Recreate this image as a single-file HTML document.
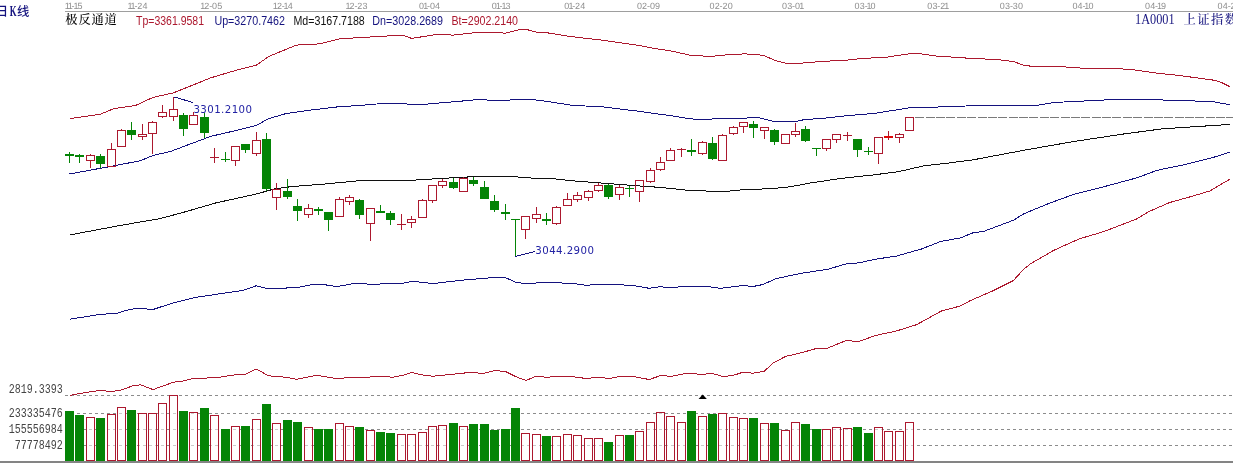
<!DOCTYPE html>
<html lang="zh"><head><meta charset="utf-8"><title>日K线 极反通道 1A0001 上证指数</title>
<style>html,body{margin:0;padding:0;background:#fff;overflow:hidden}svg{display:block}.cj{font-family:"Liberation Serif","Noto Serif CJK SC","Noto Sans CJK SC",serif}.cs{font-family:"Liberation Sans","Noto Sans CJK SC",sans-serif}.sa{font-family:"Liberation Sans",sans-serif}.mo{font-family:"Liberation Mono",monospace}.dv{font-family:"DejaVu Sans","Liberation Sans",sans-serif}</style></head><body>
<svg width="1233" height="464" viewBox="0 0 1233 464">
<rect x="0" y="0" width="1233" height="464" fill="#ffffff"/>
<g shape-rendering="crispEdges">
<rect x="65" y="11" width="1168" height="1" fill="#9e9e9e"/>
<rect x="0" y="461" width="1233" height="2" fill="#848484"/>
<line x1="65" y1="395.5" x2="1233" y2="395.5" stroke="#8c8c8c" stroke-width="1" stroke-dasharray="3 3"/>
<line x1="65" y1="413.5" x2="1233" y2="413.5" stroke="#8c8c8c" stroke-width="1" stroke-dasharray="3 3"/>
<line x1="65" y1="429.5" x2="1233" y2="429.5" stroke="#8c8c8c" stroke-width="1" stroke-dasharray="3 3"/>
<line x1="65" y1="445.5" x2="1233" y2="445.5" stroke="#8c8c8c" stroke-width="1" stroke-dasharray="3 3"/>
</g>
<g class="sa" font-size="9px" fill="#8e8e8e" text-rendering="geometricPrecision">
<text x="64.8 67.8 71.6 73.4 77.5" y="8.8">11-15</text>
<text x="127.6 130.6 134.4 137.3 142.5" y="8.8">11-24</text>
<text x="200.2 204.3 209.2 212.1 217.3" y="8.8">12-05</text>
<text x="272.8 276.9 281.8 283.6 287.7" y="8.8">12-14</text>
<text x="345.4 349.5 354.4 357.3 362.5" y="8.8">12-23</text>
<text x="419.1 423.2 427.0 429.9 435.1" y="8.8">01-04</text>
<text x="491.7 495.8 499.6 501.4 505.5" y="8.8">01-13</text>
<text x="564.3 568.4 572.2 575.1 580.3" y="8.8">01-24</text>
<text x="636.9 642.1 647.0 649.9 655.1" y="8.8">02-09</text>
<text x="709.5 714.7 719.6 722.5 727.7" y="8.8">02-20</text>
<text x="782.0 787.2 792.1 795.1 799.2" y="8.8">03-01</text>
<text x="854.6 859.8 864.7 866.5 870.6" y="8.8">03-10</text>
<text x="927.2 932.4 937.3 940.2 944.3" y="8.8">03-21</text>
<text x="999.8 1005.0 1009.9 1012.8 1018.0" y="8.8">03-30</text>
<text x="1072.4 1077.6 1082.5 1084.3 1088.4" y="8.8">04-10</text>
<text x="1145.0 1150.2 1155.1 1156.9 1161.0" y="8.8">04-19</text>
<text x="1217.6 1222.8 1227.7 1230.6 1235.8" y="8.8">04-28</text>
</g>
<text class="cs" x="-4.2" y="16" font-size="12.3px" font-weight="500" fill="#14127e">日</text>
<text class="cj" x="9.8" y="16.2" font-size="14.5px" font-weight="600" fill="#14127e" textLength="6.8" lengthAdjust="spacingAndGlyphs">K</text>
<text class="cs" x="17" y="16" font-size="12.3px" font-weight="500" fill="#14127e">线</text>
<text class="cj" x="65.3" y="23.6" font-size="12.3px" font-weight="500" fill="#000" textLength="51.6" lengthAdjust="spacing">极反通道</text>
<text class="sa" x="136.0" y="24.9" font-size="12.3px" fill="#ac182e" textLength="68.0" lengthAdjust="spacingAndGlyphs">Tp=3361.9581</text>
<text class="sa" x="214.4" y="24.9" font-size="12.3px" fill="#14127e" textLength="70.6" lengthAdjust="spacingAndGlyphs">Up=3270.7462</text>
<text class="sa" x="293.5" y="24.9" font-size="12.3px" fill="#101010" textLength="71.3" lengthAdjust="spacingAndGlyphs">Md=3167.7188</text>
<text class="sa" x="372.3" y="24.9" font-size="12.3px" fill="#14127e" textLength="70.7" lengthAdjust="spacingAndGlyphs">Dn=3028.2689</text>
<text class="sa" x="451.5" y="24.9" font-size="12.3px" fill="#ac182e" textLength="66.5" lengthAdjust="spacingAndGlyphs">Bt=2902.2140</text>
<text class="cj" x="1135" y="24" font-size="14.6px" fill="#14127e" textLength="39.6" lengthAdjust="spacingAndGlyphs">1A0001</text>
<text class="cj" x="1183.6" y="23.6" font-size="12.3px" font-weight="500" fill="#14127e" textLength="53.5" lengthAdjust="spacing">上证指数</text>
<text class="mo" x="62.7" y="392.7" font-size="12px" fill="#444" text-anchor="end" textLength="54" lengthAdjust="spacingAndGlyphs">2819.3393</text>
<text class="mo" x="62.7" y="416.7" font-size="12px" fill="#444" text-anchor="end" textLength="54" lengthAdjust="spacingAndGlyphs">233335476</text>
<text class="mo" x="62.7" y="433" font-size="12px" fill="#444" text-anchor="end" textLength="54" lengthAdjust="spacingAndGlyphs">155556984</text>
<text class="mo" x="62.7" y="449" font-size="12px" fill="#444" text-anchor="end" textLength="48" lengthAdjust="spacingAndGlyphs">77778492</text>
<g shape-rendering="crispEdges">
<rect x="65" y="411" width="9" height="50" fill="#048406"/>
<rect x="75" y="415" width="9" height="46" fill="#048406"/>
<rect x="86.5" y="417.5" width="8" height="43" fill="#fff" fill-opacity="0.55" stroke="#ac182e" stroke-width="1"/>
<rect x="96" y="418" width="9" height="43" fill="#048406"/>
<rect x="107.5" y="414.5" width="8" height="46" fill="#fff" fill-opacity="0.55" stroke="#ac182e" stroke-width="1"/>
<rect x="117.5" y="407.5" width="8" height="53" fill="#fff" fill-opacity="0.55" stroke="#ac182e" stroke-width="1"/>
<rect x="127" y="410" width="9" height="51" fill="#048406"/>
<rect x="138.5" y="413.5" width="8" height="47" fill="#fff" fill-opacity="0.55" stroke="#ac182e" stroke-width="1"/>
<rect x="148.5" y="413.5" width="8" height="47" fill="#fff" fill-opacity="0.55" stroke="#ac182e" stroke-width="1"/>
<rect x="158.5" y="403.5" width="8" height="57" fill="#fff" fill-opacity="0.55" stroke="#ac182e" stroke-width="1"/>
<rect x="169.5" y="395.5" width="8" height="65" fill="#fff" fill-opacity="0.55" stroke="#ac182e" stroke-width="1"/>
<rect x="179" y="411" width="9" height="50" fill="#048406"/>
<rect x="189.5" y="412.5" width="8" height="48" fill="#fff" fill-opacity="0.55" stroke="#ac182e" stroke-width="1"/>
<rect x="200" y="408" width="9" height="53" fill="#048406"/>
<rect x="210.5" y="415.5" width="8" height="45" fill="#fff" fill-opacity="0.55" stroke="#ac182e" stroke-width="1"/>
<rect x="221" y="429" width="9" height="32" fill="#048406"/>
<rect x="231.5" y="426.5" width="8" height="34" fill="#fff" fill-opacity="0.55" stroke="#ac182e" stroke-width="1"/>
<rect x="241" y="426" width="9" height="35" fill="#048406"/>
<rect x="252.5" y="419.5" width="8" height="41" fill="#fff" fill-opacity="0.55" stroke="#ac182e" stroke-width="1"/>
<rect x="262" y="404" width="9" height="57" fill="#048406"/>
<rect x="272.5" y="423.5" width="8" height="37" fill="#fff" fill-opacity="0.55" stroke="#ac182e" stroke-width="1"/>
<rect x="283" y="420" width="9" height="41" fill="#048406"/>
<rect x="293" y="422" width="9" height="39" fill="#048406"/>
<rect x="304.5" y="427.5" width="8" height="33" fill="#fff" fill-opacity="0.55" stroke="#ac182e" stroke-width="1"/>
<rect x="314" y="429" width="9" height="32" fill="#048406"/>
<rect x="324" y="429" width="9" height="32" fill="#048406"/>
<rect x="335.5" y="423.5" width="8" height="37" fill="#fff" fill-opacity="0.55" stroke="#ac182e" stroke-width="1"/>
<rect x="345.5" y="426.5" width="8" height="34" fill="#fff" fill-opacity="0.55" stroke="#ac182e" stroke-width="1"/>
<rect x="355" y="427" width="9" height="34" fill="#048406"/>
<rect x="366.5" y="430.5" width="8" height="30" fill="#fff" fill-opacity="0.55" stroke="#ac182e" stroke-width="1"/>
<rect x="376" y="432" width="9" height="29" fill="#048406"/>
<rect x="386" y="433" width="9" height="28" fill="#048406"/>
<rect x="397.5" y="434.5" width="8" height="26" fill="#fff" fill-opacity="0.55" stroke="#ac182e" stroke-width="1"/>
<rect x="407.5" y="434.5" width="8" height="26" fill="#fff" fill-opacity="0.55" stroke="#ac182e" stroke-width="1"/>
<rect x="418.5" y="432.5" width="8" height="28" fill="#fff" fill-opacity="0.55" stroke="#ac182e" stroke-width="1"/>
<rect x="428.5" y="426.5" width="8" height="34" fill="#fff" fill-opacity="0.55" stroke="#ac182e" stroke-width="1"/>
<rect x="438.5" y="425.5" width="8" height="35" fill="#fff" fill-opacity="0.55" stroke="#ac182e" stroke-width="1"/>
<rect x="449" y="423" width="9" height="38" fill="#048406"/>
<rect x="459.5" y="426.5" width="8" height="34" fill="#fff" fill-opacity="0.55" stroke="#ac182e" stroke-width="1"/>
<rect x="469" y="424" width="9" height="37" fill="#048406"/>
<rect x="480" y="424" width="9" height="37" fill="#048406"/>
<rect x="490" y="430" width="9" height="31" fill="#048406"/>
<rect x="501" y="429" width="9" height="32" fill="#048406"/>
<rect x="511" y="408" width="9" height="53" fill="#048406"/>
<rect x="521.5" y="433.5" width="8" height="27" fill="#fff" fill-opacity="0.55" stroke="#ac182e" stroke-width="1"/>
<rect x="532.5" y="434.5" width="8" height="26" fill="#fff" fill-opacity="0.55" stroke="#ac182e" stroke-width="1"/>
<rect x="542" y="436" width="9" height="25" fill="#048406"/>
<rect x="552.5" y="436.5" width="8" height="24" fill="#fff" fill-opacity="0.55" stroke="#ac182e" stroke-width="1"/>
<rect x="563.5" y="434.5" width="8" height="26" fill="#fff" fill-opacity="0.55" stroke="#ac182e" stroke-width="1"/>
<rect x="573.5" y="435.5" width="8" height="25" fill="#fff" fill-opacity="0.55" stroke="#ac182e" stroke-width="1"/>
<rect x="584.5" y="438.5" width="8" height="22" fill="#fff" fill-opacity="0.55" stroke="#ac182e" stroke-width="1"/>
<rect x="594.5" y="438.5" width="8" height="22" fill="#fff" fill-opacity="0.55" stroke="#ac182e" stroke-width="1"/>
<rect x="604" y="442" width="9" height="19" fill="#048406"/>
<rect x="615.5" y="435.5" width="8" height="25" fill="#fff" fill-opacity="0.55" stroke="#ac182e" stroke-width="1"/>
<rect x="625" y="435" width="9" height="26" fill="#048406"/>
<rect x="635.5" y="431.5" width="8" height="29" fill="#fff" fill-opacity="0.55" stroke="#ac182e" stroke-width="1"/>
<rect x="646.5" y="422.5" width="8" height="38" fill="#fff" fill-opacity="0.55" stroke="#ac182e" stroke-width="1"/>
<rect x="656.5" y="412.5" width="8" height="48" fill="#fff" fill-opacity="0.55" stroke="#ac182e" stroke-width="1"/>
<rect x="666.5" y="416.5" width="8" height="44" fill="#fff" fill-opacity="0.55" stroke="#ac182e" stroke-width="1"/>
<rect x="677.5" y="422.5" width="8" height="38" fill="#fff" fill-opacity="0.55" stroke="#ac182e" stroke-width="1"/>
<rect x="687" y="411" width="9" height="50" fill="#048406"/>
<rect x="698.5" y="416.5" width="8" height="44" fill="#fff" fill-opacity="0.55" stroke="#ac182e" stroke-width="1"/>
<rect x="708" y="414" width="9" height="47" fill="#048406"/>
<rect x="718.5" y="413.5" width="8" height="47" fill="#fff" fill-opacity="0.55" stroke="#ac182e" stroke-width="1"/>
<rect x="729.5" y="417.5" width="8" height="43" fill="#fff" fill-opacity="0.55" stroke="#ac182e" stroke-width="1"/>
<rect x="739.5" y="418.5" width="8" height="42" fill="#fff" fill-opacity="0.55" stroke="#ac182e" stroke-width="1"/>
<rect x="749" y="418" width="9" height="43" fill="#048406"/>
<rect x="760.5" y="423.5" width="8" height="37" fill="#fff" fill-opacity="0.55" stroke="#ac182e" stroke-width="1"/>
<rect x="770" y="423" width="9" height="38" fill="#048406"/>
<rect x="781.5" y="430.5" width="8" height="30" fill="#fff" fill-opacity="0.55" stroke="#ac182e" stroke-width="1"/>
<rect x="791.5" y="422.5" width="8" height="38" fill="#fff" fill-opacity="0.55" stroke="#ac182e" stroke-width="1"/>
<rect x="801" y="424" width="9" height="37" fill="#048406"/>
<rect x="812" y="429" width="9" height="32" fill="#048406"/>
<rect x="822.5" y="429.5" width="8" height="31" fill="#fff" fill-opacity="0.55" stroke="#ac182e" stroke-width="1"/>
<rect x="832.5" y="427.5" width="8" height="33" fill="#fff" fill-opacity="0.55" stroke="#ac182e" stroke-width="1"/>
<rect x="843.5" y="428.5" width="8" height="32" fill="#fff" fill-opacity="0.55" stroke="#ac182e" stroke-width="1"/>
<rect x="853" y="427" width="9" height="34" fill="#048406"/>
<rect x="864" y="433" width="9" height="28" fill="#048406"/>
<rect x="874.5" y="427.5" width="8" height="33" fill="#fff" fill-opacity="0.55" stroke="#ac182e" stroke-width="1"/>
<rect x="884.5" y="431.5" width="8" height="29" fill="#fff" fill-opacity="0.55" stroke="#ac182e" stroke-width="1"/>
<rect x="895.5" y="431.5" width="8" height="29" fill="#fff" fill-opacity="0.55" stroke="#ac182e" stroke-width="1"/>
<rect x="905.5" y="422.5" width="8" height="38" fill="#fff" fill-opacity="0.55" stroke="#ac182e" stroke-width="1"/>
</g>
<polyline points="69.6,118.6 100.2,114.3 114.1,108.5 135.4,105.5 153.0,97.4 173.2,92.9 190.8,85.9 210.9,77.8 236.0,70.3 256.1,65.3 268.7,56.5 296.4,45.1 319.0,43.9 339.1,38.9 360.0,37.6 402.7,35.1 411.5,38.4 438.0,34.3 453.0,35.1 480.7,32.1 505.8,33.1 520.9,29.3 526.0,29.3 536.0,32.1 546.0,32.6 568.7,36.3 601.4,40.1 636.6,45.1 660.0,49.4 670.0,50.7 690.2,55.2 710.3,56.5 730.4,54.4 745.5,53.9 763.0,55.2 775.7,60.7 785.7,63.2 800.8,63.2 820.9,61.5 846.0,60.2 861.2,58.5 886.3,57.2 908.9,53.9 921.5,53.9 935.6,56.0 968.3,58.2 998.4,59.7 1013.5,61.5 1023.6,65.3 1033.6,66.5 1058.8,66.5 1083.9,68.3 1114.1,68.5 1131.7,69.5 1154.3,72.8 1182.0,75.8 1199.6,78.3 1214.7,80.3 1222.2,82.9 1229.8,86.6" fill="none" stroke="#ac182e" stroke-width="1" shape-rendering="crispEdges"/>
<polyline points="69.6,395.4 80.1,393.4 100.2,390.3 110.3,391.6 120.3,390.3 132.9,385.8 140.5,384.8 153.0,389.6 173.2,382.3 183.2,381.0 193.3,378.3 215.9,377.8 231.0,375.3 246.1,374.0 256.1,369.0 268.7,375.8 286.3,377.3 296.4,379.3 316.5,375.3 339.1,379.0 349.2,377.0 370.0,377.0 380.1,376.2 392.7,377.2 402.7,375.4 411.5,372.4 420.3,374.7 432.9,376.2 460.6,373.4 470.6,372.4 483.2,373.4 495.8,370.4 505.8,371.7 515.9,376.7 526.0,380.5 536.0,376.2 546.1,377.2 568.7,376.2 586.3,378.5 598.9,377.2 608.9,378.5 621.5,376.2 631.6,376.2 649.2,379.5 661.7,375.2 670.0,376.5 687.7,373.2 702.7,374.5 711.5,373.2 722.9,376.5 732.9,375.5 743.0,372.2 753.0,373.2 764.4,371.2 773.1,362.9 785.7,356.4 800.8,352.9 815.9,348.6 827.2,348.3 846.1,340.5 858.6,341.5 876.2,335.3 896.4,331.0 916.5,324.7 941.6,310.9 959.2,306.3 970.0,300.8 993.4,290.6 1013.5,280.5 1023.6,269.2 1031.1,263.4 1053.8,250.3 1078.9,239.0 1104.0,231.5 1136.7,218.9 1149.3,211.4 1169.4,202.6 1189.5,197.0 1209.7,191.0 1229.8,179.2" fill="none" stroke="#ac182e" stroke-width="1" shape-rendering="crispEdges"/>
<polyline points="69.6,174.0 92.7,169.7 110.3,166.5 140.5,160.7 153.0,155.5 170.6,151.4 190.8,143.8 210.9,136.3 236.0,130.5 256.1,125.6 268.7,118.6 286.3,113.5 311.4,110.0 339.1,106.7 360.0,105.5 387.7,103.0 402.7,103.0 410.3,104.7 425.4,104.2 460.6,101.2 480.7,99.2 490.8,100.5 505.8,100.5 515.9,99.2 528.5,99.2 541.0,100.5 573.7,105.5 601.4,106.7 636.6,111.0 660.0,114.3 670.0,115.5 687.7,118.4 698.0,119.5 717.5,118.8 746.0,118.4 749.0,117.5 758.0,117.5 773.4,121.4 796.8,121.4 804.5,119.5 820.9,118.6 848.6,115.5 873.7,113.5 911.4,107.5 923.0,107.5 948.1,106.7 978.3,105.5 1036.1,105.5 1053.7,102.5 1083.9,101.0 1104.0,100.0 1131.7,99.5 1159.4,99.5 1166.9,100.5 1192.0,100.5 1197.1,101.5 1212.2,101.5 1219.7,103.0 1229.8,104.5" fill="none" stroke="#14127e" stroke-width="1" shape-rendering="crispEdges"/>
<polyline points="69.6,319.3 97.7,314.7 117.8,313.0 130.4,309.2 140.5,308.5 153.0,309.5 170.6,303.7 195.8,297.4 220.9,293.6 243.6,290.3 256.1,285.8 266.2,288.3 281.3,288.3 298.9,287.3 314.0,284.1 324.0,284.6 336.6,286.6 356.7,283.1 370.0,284.3 402.7,283.3 412.8,281.3 432.9,283.6 460.6,280.3 490.8,277.8 505.8,277.8 515.9,282.3 526.0,283.6 548.6,282.3 573.7,283.6 586.3,285.3 601.4,284.1 631.6,285.3 649.2,288.3 659.2,286.8 667.5,287.3 705.3,286.2 720.3,288.3 743.0,285.5 753.0,286.5 763.1,284.5 775.7,278.7 800.8,273.4 828.5,269.1 846.1,263.9 858.6,262.9 876.2,259.1 896.4,256.1 921.5,249.0 940.6,241.5 960.7,237.8 973.3,232.7 983.3,231.5 1013.5,220.2 1023.6,213.9 1048.7,203.5 1073.9,194.3 1099.0,188.0 1136.7,177.9 1156.8,170.4 1187.0,164.1 1212.2,157.8 1229.8,152.0" fill="none" stroke="#14127e" stroke-width="1" shape-rendering="crispEdges"/>
<polyline points="69.6,235.1 92.7,230.6 122.9,225.0 160.6,218.5 185.7,211.7 215.9,202.9 256.1,194.1 273.7,189.1 291.3,186.6 324.0,184.1 365.6,180.1 410.0,180.4 438.0,178.6 478.8,176.4 510.6,176.4 530.8,178.0 552.9,178.6 570.0,180.6 630.5,185.3 660.0,187.4 685.1,190.0 710.3,191.2 727.9,191.2 740.5,190.0 773.1,188.5 790.7,186.7 810.9,182.9 841.0,178.4 873.7,174.9 898.9,171.6 924.0,165.8 944.1,163.6 973.3,159.8 1023.6,150.3 1073.9,141.5 1124.2,133.9 1161.9,128.9 1199.6,126.4 1229.8,124.4" fill="none" stroke="#101010" stroke-width="1" shape-rendering="crispEdges"/>
<g shape-rendering="crispEdges">
<rect x="915" y="117" width="9" height="1" fill="#7a7a7a"/>
<rect x="926" y="117" width="9" height="1" fill="#7a7a7a"/>
<rect x="936" y="117" width="9" height="1" fill="#7a7a7a"/>
<rect x="946" y="117" width="9" height="1" fill="#7a7a7a"/>
<rect x="957" y="117" width="9" height="1" fill="#7a7a7a"/>
<rect x="967" y="117" width="9" height="1" fill="#7a7a7a"/>
<rect x="978" y="117" width="9" height="1" fill="#7a7a7a"/>
<rect x="988" y="117" width="9" height="1" fill="#7a7a7a"/>
<rect x="998" y="117" width="9" height="1" fill="#7a7a7a"/>
<rect x="1009" y="117" width="9" height="1" fill="#7a7a7a"/>
<rect x="1019" y="117" width="9" height="1" fill="#7a7a7a"/>
<rect x="1029" y="117" width="9" height="1" fill="#7a7a7a"/>
<rect x="1040" y="117" width="9" height="1" fill="#7a7a7a"/>
<rect x="1050" y="117" width="9" height="1" fill="#7a7a7a"/>
<rect x="1061" y="117" width="9" height="1" fill="#7a7a7a"/>
<rect x="1071" y="117" width="9" height="1" fill="#7a7a7a"/>
<rect x="1081" y="117" width="9" height="1" fill="#7a7a7a"/>
<rect x="1092" y="117" width="9" height="1" fill="#7a7a7a"/>
<rect x="1102" y="117" width="9" height="1" fill="#7a7a7a"/>
<rect x="1112" y="117" width="9" height="1" fill="#7a7a7a"/>
<rect x="1123" y="117" width="9" height="1" fill="#7a7a7a"/>
<rect x="1133" y="117" width="9" height="1" fill="#7a7a7a"/>
<rect x="1144" y="117" width="9" height="1" fill="#7a7a7a"/>
<rect x="1154" y="117" width="9" height="1" fill="#7a7a7a"/>
<rect x="1164" y="117" width="9" height="1" fill="#7a7a7a"/>
<rect x="1175" y="117" width="9" height="1" fill="#7a7a7a"/>
<rect x="1185" y="117" width="9" height="1" fill="#7a7a7a"/>
<rect x="1195" y="117" width="9" height="1" fill="#7a7a7a"/>
<rect x="1206" y="117" width="9" height="1" fill="#7a7a7a"/>
<rect x="1216" y="117" width="9" height="1" fill="#7a7a7a"/>
<rect x="1226" y="117" width="7" height="1" fill="#7a7a7a"/>
</g>
<g shape-rendering="crispEdges">
<rect x="69" y="152" width="1" height="11" fill="#048406"/>
<rect x="65" y="154" width="9" height="2" fill="#048406"/>
<rect x="79" y="154" width="1" height="9" fill="#048406"/>
<rect x="75" y="155" width="9" height="2" fill="#048406"/>
<rect x="90" y="154" width="1" height="1" fill="#ac182e"/>
<rect x="90" y="161" width="1" height="7" fill="#ac182e"/>
<rect x="86.5" y="155.5" width="8" height="5" fill="none" stroke="#ac182e" stroke-width="1"/>
<rect x="100" y="154" width="1" height="14" fill="#048406"/>
<rect x="96" y="156" width="9" height="8" fill="#048406"/>
<rect x="111" y="143" width="1" height="6" fill="#ac182e"/>
<rect x="107.5" y="149.5" width="8" height="17" fill="none" stroke="#ac182e" stroke-width="1"/>
<rect x="121" y="129" width="1" height="1" fill="#ac182e"/>
<rect x="117.5" y="130.5" width="8" height="16" fill="none" stroke="#ac182e" stroke-width="1"/>
<rect x="131" y="122" width="1" height="18" fill="#048406"/>
<rect x="127" y="130" width="9" height="5" fill="#048406"/>
<rect x="142" y="124" width="1" height="10" fill="#ac182e"/>
<rect x="142" y="137" width="1" height="3" fill="#ac182e"/>
<rect x="138.5" y="134.5" width="8" height="2" fill="none" stroke="#ac182e" stroke-width="1"/>
<rect x="152" y="121" width="1" height="1" fill="#ac182e"/>
<rect x="152" y="134" width="1" height="20" fill="#ac182e"/>
<rect x="148.5" y="122.5" width="8" height="11" fill="none" stroke="#ac182e" stroke-width="1"/>
<rect x="162" y="105" width="1" height="7" fill="#ac182e"/>
<rect x="162" y="117" width="1" height="1" fill="#ac182e"/>
<rect x="158.5" y="112.5" width="8" height="4" fill="none" stroke="#ac182e" stroke-width="1"/>
<rect x="173" y="97" width="1" height="12" fill="#ac182e"/>
<rect x="173" y="117" width="1" height="4" fill="#ac182e"/>
<rect x="169.5" y="109.5" width="8" height="7" fill="none" stroke="#ac182e" stroke-width="1"/>
<rect x="183" y="113" width="1" height="23" fill="#048406"/>
<rect x="179" y="115" width="9" height="14" fill="#048406"/>
<rect x="193" y="112" width="1" height="3" fill="#ac182e"/>
<rect x="189.5" y="115.5" width="8" height="9" fill="none" stroke="#ac182e" stroke-width="1"/>
<rect x="204" y="113" width="1" height="25" fill="#048406"/>
<rect x="200" y="117" width="9" height="16" fill="#048406"/>
<rect x="214" y="148" width="1" height="15" fill="#ac182e"/>
<rect x="210" y="157" width="9" height="1" fill="#ac182e"/>
<rect x="225" y="152" width="1" height="10" fill="#048406"/>
<rect x="221" y="159" width="9" height="1" fill="#048406"/>
<rect x="235" y="161" width="1" height="5" fill="#ac182e"/>
<rect x="231.5" y="146.5" width="8" height="14" fill="none" stroke="#ac182e" stroke-width="1"/>
<rect x="245" y="144" width="1" height="9" fill="#048406"/>
<rect x="241" y="144" width="9" height="6" fill="#048406"/>
<rect x="256" y="132" width="1" height="8" fill="#ac182e"/>
<rect x="256" y="154" width="1" height="2" fill="#ac182e"/>
<rect x="252.5" y="140.5" width="8" height="13" fill="none" stroke="#ac182e" stroke-width="1"/>
<rect x="266" y="133" width="1" height="58" fill="#048406"/>
<rect x="262" y="139" width="9" height="50" fill="#048406"/>
<rect x="276" y="183" width="1" height="6" fill="#ac182e"/>
<rect x="276" y="198" width="1" height="12" fill="#ac182e"/>
<rect x="272.5" y="189.5" width="8" height="8" fill="none" stroke="#ac182e" stroke-width="1"/>
<rect x="287" y="179" width="1" height="20" fill="#048406"/>
<rect x="283" y="191" width="9" height="6" fill="#048406"/>
<rect x="297" y="199" width="1" height="22" fill="#048406"/>
<rect x="293" y="206" width="9" height="5" fill="#048406"/>
<rect x="308" y="204" width="1" height="4" fill="#ac182e"/>
<rect x="308" y="215" width="1" height="3" fill="#ac182e"/>
<rect x="304.5" y="208.5" width="8" height="6" fill="none" stroke="#ac182e" stroke-width="1"/>
<rect x="318" y="207" width="1" height="8" fill="#048406"/>
<rect x="314" y="209" width="9" height="2" fill="#048406"/>
<rect x="328" y="212" width="1" height="19" fill="#048406"/>
<rect x="324" y="212" width="9" height="8" fill="#048406"/>
<rect x="339" y="197" width="1" height="2" fill="#ac182e"/>
<rect x="335.5" y="199.5" width="8" height="17" fill="none" stroke="#ac182e" stroke-width="1"/>
<rect x="349" y="195" width="1" height="2" fill="#ac182e"/>
<rect x="349" y="202" width="1" height="3" fill="#ac182e"/>
<rect x="345.5" y="197.5" width="8" height="4" fill="none" stroke="#ac182e" stroke-width="1"/>
<rect x="359" y="199" width="1" height="20" fill="#048406"/>
<rect x="355" y="200" width="9" height="15" fill="#048406"/>
<rect x="370" y="224" width="1" height="17" fill="#ac182e"/>
<rect x="366.5" y="208.5" width="8" height="15" fill="none" stroke="#ac182e" stroke-width="1"/>
<rect x="380" y="205" width="1" height="8" fill="#048406"/>
<rect x="376" y="211" width="9" height="2" fill="#048406"/>
<rect x="390" y="211" width="1" height="14" fill="#048406"/>
<rect x="386" y="213" width="9" height="7" fill="#048406"/>
<rect x="401" y="214" width="1" height="16" fill="#ac182e"/>
<rect x="397" y="224" width="9" height="1" fill="#ac182e"/>
<rect x="411" y="216" width="1" height="3" fill="#ac182e"/>
<rect x="411" y="223" width="1" height="5" fill="#ac182e"/>
<rect x="407.5" y="219.5" width="8" height="3" fill="none" stroke="#ac182e" stroke-width="1"/>
<rect x="422" y="199" width="1" height="1" fill="#ac182e"/>
<rect x="418.5" y="200.5" width="8" height="17" fill="none" stroke="#ac182e" stroke-width="1"/>
<rect x="432" y="201" width="1" height="2" fill="#ac182e"/>
<rect x="428.5" y="185.5" width="8" height="15" fill="none" stroke="#ac182e" stroke-width="1"/>
<rect x="442" y="179" width="1" height="2" fill="#ac182e"/>
<rect x="442" y="186" width="1" height="2" fill="#ac182e"/>
<rect x="438.5" y="181.5" width="8" height="4" fill="none" stroke="#ac182e" stroke-width="1"/>
<rect x="453" y="178" width="1" height="11" fill="#048406"/>
<rect x="449" y="182" width="9" height="6" fill="#048406"/>
<rect x="463" y="177" width="1" height="1" fill="#ac182e"/>
<rect x="459.5" y="178.5" width="8" height="13" fill="none" stroke="#ac182e" stroke-width="1"/>
<rect x="473" y="177" width="1" height="9" fill="#048406"/>
<rect x="469" y="180" width="9" height="4" fill="#048406"/>
<rect x="484" y="181" width="1" height="18" fill="#048406"/>
<rect x="480" y="187" width="9" height="12" fill="#048406"/>
<rect x="494" y="195" width="1" height="17" fill="#048406"/>
<rect x="490" y="201" width="9" height="9" fill="#048406"/>
<rect x="505" y="204" width="1" height="16" fill="#048406"/>
<rect x="501" y="212" width="9" height="2" fill="#048406"/>
<rect x="515" y="219" width="1" height="38" fill="#048406"/>
<rect x="511" y="219" width="9" height="1" fill="#048406"/>
<rect x="525" y="230" width="1" height="9" fill="#ac182e"/>
<rect x="521.5" y="216.5" width="8" height="13" fill="none" stroke="#ac182e" stroke-width="1"/>
<rect x="536" y="207" width="1" height="7" fill="#ac182e"/>
<rect x="536" y="219" width="1" height="4" fill="#ac182e"/>
<rect x="532.5" y="214.5" width="8" height="4" fill="none" stroke="#ac182e" stroke-width="1"/>
<rect x="546" y="213" width="1" height="12" fill="#048406"/>
<rect x="542" y="219" width="9" height="2" fill="#048406"/>
<rect x="556" y="206" width="1" height="1" fill="#ac182e"/>
<rect x="556" y="224" width="1" height="1" fill="#ac182e"/>
<rect x="552.5" y="207.5" width="8" height="16" fill="none" stroke="#ac182e" stroke-width="1"/>
<rect x="567" y="193" width="1" height="6" fill="#ac182e"/>
<rect x="563.5" y="199.5" width="8" height="6" fill="none" stroke="#ac182e" stroke-width="1"/>
<rect x="577" y="192" width="1" height="3" fill="#ac182e"/>
<rect x="577" y="200" width="1" height="2" fill="#ac182e"/>
<rect x="573.5" y="195.5" width="8" height="4" fill="none" stroke="#ac182e" stroke-width="1"/>
<rect x="588" y="190" width="1" height="1" fill="#ac182e"/>
<rect x="588" y="198" width="1" height="3" fill="#ac182e"/>
<rect x="584.5" y="191.5" width="8" height="6" fill="none" stroke="#ac182e" stroke-width="1"/>
<rect x="598" y="183" width="1" height="2" fill="#ac182e"/>
<rect x="598" y="191" width="1" height="1" fill="#ac182e"/>
<rect x="594.5" y="185.5" width="8" height="5" fill="none" stroke="#ac182e" stroke-width="1"/>
<rect x="608" y="184" width="1" height="15" fill="#048406"/>
<rect x="604" y="185" width="9" height="12" fill="#048406"/>
<rect x="619" y="185" width="1" height="2" fill="#ac182e"/>
<rect x="619" y="195" width="1" height="5" fill="#ac182e"/>
<rect x="615.5" y="187.5" width="8" height="7" fill="none" stroke="#ac182e" stroke-width="1"/>
<rect x="629" y="186" width="1" height="11" fill="#048406"/>
<rect x="625" y="188" width="9" height="1" fill="#048406"/>
<rect x="639" y="192" width="1" height="10" fill="#ac182e"/>
<rect x="635.5" y="180.5" width="8" height="11" fill="none" stroke="#ac182e" stroke-width="1"/>
<rect x="650" y="168" width="1" height="2" fill="#ac182e"/>
<rect x="650" y="182" width="1" height="1" fill="#ac182e"/>
<rect x="646.5" y="170.5" width="8" height="11" fill="none" stroke="#ac182e" stroke-width="1"/>
<rect x="660" y="157" width="1" height="5" fill="#ac182e"/>
<rect x="660" y="170" width="1" height="1" fill="#ac182e"/>
<rect x="656.5" y="162.5" width="8" height="7" fill="none" stroke="#ac182e" stroke-width="1"/>
<rect x="670" y="148" width="1" height="2" fill="#ac182e"/>
<rect x="666.5" y="150.5" width="8" height="10" fill="none" stroke="#ac182e" stroke-width="1"/>
<rect x="681" y="148" width="1" height="9" fill="#ac182e"/>
<rect x="677" y="149" width="9" height="1" fill="#ac182e"/>
<rect x="691" y="139" width="1" height="17" fill="#048406"/>
<rect x="687" y="150" width="9" height="2" fill="#048406"/>
<rect x="702" y="141" width="1" height="1" fill="#ac182e"/>
<rect x="702" y="154" width="1" height="1" fill="#ac182e"/>
<rect x="698.5" y="142.5" width="8" height="11" fill="none" stroke="#ac182e" stroke-width="1"/>
<rect x="712" y="137" width="1" height="23" fill="#048406"/>
<rect x="708" y="143" width="9" height="16" fill="#048406"/>
<rect x="722" y="134" width="1" height="1" fill="#ac182e"/>
<rect x="718.5" y="135.5" width="8" height="25" fill="none" stroke="#ac182e" stroke-width="1"/>
<rect x="733" y="126" width="1" height="1" fill="#ac182e"/>
<rect x="733" y="134" width="1" height="1" fill="#ac182e"/>
<rect x="729.5" y="127.5" width="8" height="6" fill="none" stroke="#ac182e" stroke-width="1"/>
<rect x="743" y="127" width="1" height="6" fill="#ac182e"/>
<rect x="739.5" y="122.5" width="8" height="4" fill="none" stroke="#ac182e" stroke-width="1"/>
<rect x="753" y="121" width="1" height="17" fill="#048406"/>
<rect x="749" y="124" width="9" height="4" fill="#048406"/>
<rect x="764" y="131" width="1" height="8" fill="#ac182e"/>
<rect x="760.5" y="127.5" width="8" height="3" fill="none" stroke="#ac182e" stroke-width="1"/>
<rect x="774" y="129" width="1" height="16" fill="#048406"/>
<rect x="770" y="130" width="9" height="12" fill="#048406"/>
<rect x="781.5" y="134.5" width="8" height="9" fill="none" stroke="#ac182e" stroke-width="1"/>
<rect x="795" y="123" width="1" height="8" fill="#ac182e"/>
<rect x="795" y="135" width="1" height="2" fill="#ac182e"/>
<rect x="791.5" y="131.5" width="8" height="3" fill="none" stroke="#ac182e" stroke-width="1"/>
<rect x="805" y="126" width="1" height="16" fill="#048406"/>
<rect x="801" y="129" width="9" height="12" fill="#048406"/>
<rect x="816" y="148" width="1" height="8" fill="#048406"/>
<rect x="812" y="148" width="9" height="1" fill="#048406"/>
<rect x="826" y="149" width="1" height="2" fill="#ac182e"/>
<rect x="822.5" y="139.5" width="8" height="9" fill="none" stroke="#ac182e" stroke-width="1"/>
<rect x="836" y="140" width="1" height="3" fill="#ac182e"/>
<rect x="832.5" y="134.5" width="8" height="5" fill="none" stroke="#ac182e" stroke-width="1"/>
<rect x="847" y="132" width="1" height="9" fill="#ac182e"/>
<rect x="843" y="135" width="9" height="1" fill="#ac182e"/>
<rect x="857" y="139" width="1" height="18" fill="#048406"/>
<rect x="853" y="139" width="9" height="11" fill="#048406"/>
<rect x="868" y="147" width="1" height="8" fill="#048406"/>
<rect x="864" y="151" width="9" height="1" fill="#048406"/>
<rect x="878" y="154" width="1" height="10" fill="#ac182e"/>
<rect x="874.5" y="137.5" width="8" height="16" fill="none" stroke="#ac182e" stroke-width="1"/>
<rect x="888" y="131" width="1" height="9" fill="#ac182e"/>
<rect x="884" y="136" width="9" height="2" fill="#dc0808"/>
<rect x="899" y="133" width="1" height="1" fill="#ac182e"/>
<rect x="899" y="138" width="1" height="5" fill="#ac182e"/>
<rect x="895.5" y="134.5" width="8" height="3" fill="none" stroke="#ac182e" stroke-width="1"/>
<rect x="905.5" y="117.5" width="8" height="13" fill="none" stroke="#ac182e" stroke-width="1"/>
</g>
<polyline points="173.5,97.5 176,97.5 193,102.5" fill="none" stroke="#14127e" stroke-width="1" shape-rendering="crispEdges"/>
<text class="dv" x="193.4" y="112.8" font-size="10.2px" fill="#2222a4" textLength="58.6" lengthAdjust="spacing">3301.2100</text>
<polyline points="515.5,256.5 535,251.5" fill="none" stroke="#14127e" stroke-width="1" shape-rendering="crispEdges"/>
<text class="dv" x="535.3" y="253.5" font-size="10.2px" fill="#2222a4" textLength="58.6" lengthAdjust="spacing">3044.2900</text>
<polygon points="702.7,394.6 706.8,399 698.6,399" fill="#000"/>
</svg></body></html>
